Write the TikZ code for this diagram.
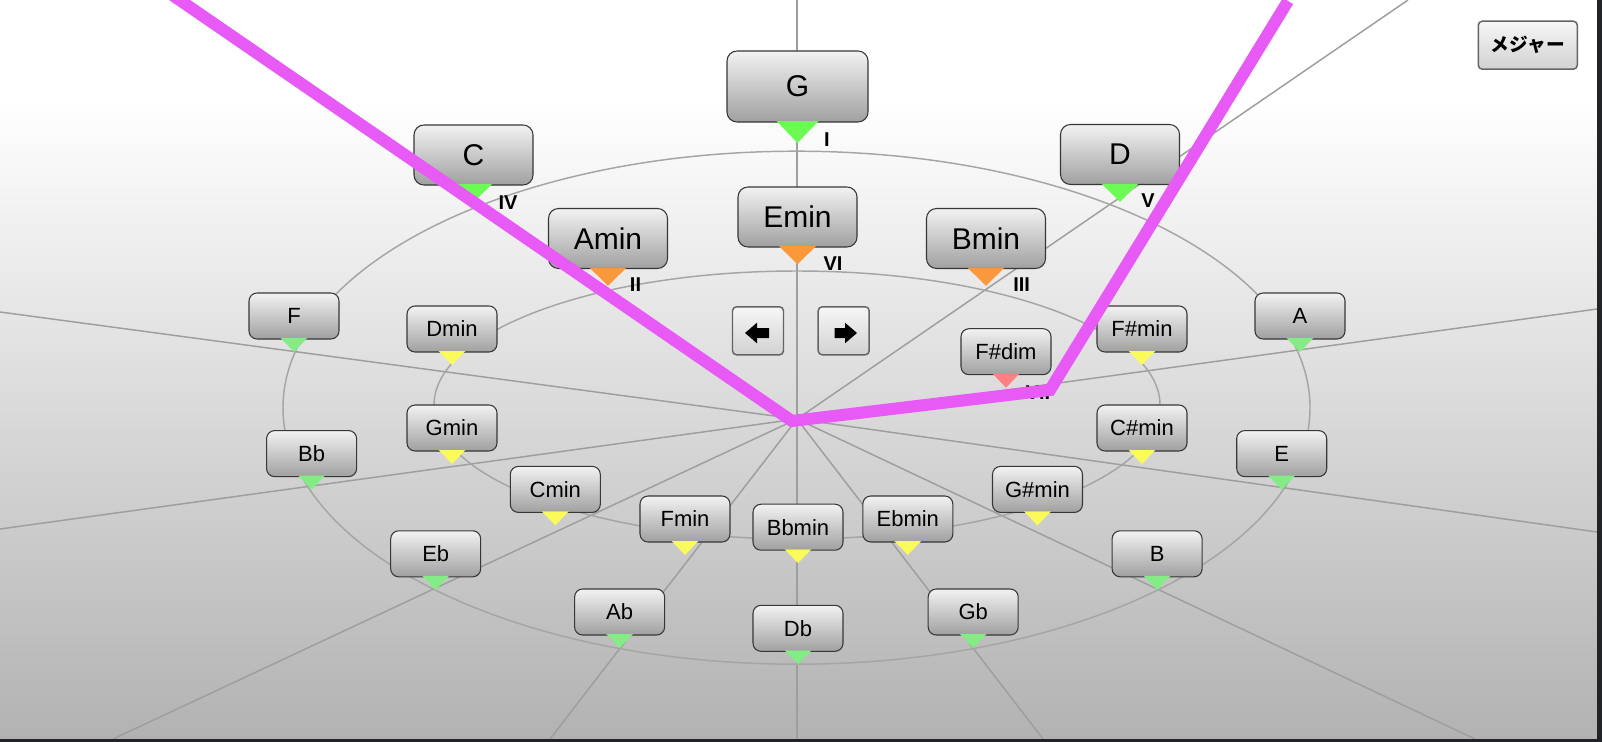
\documentclass[tikz,border=0pt]{standalone}
\usepackage{fontspec}
\setmainfont{Liberation Sans}
\newfontfamily\cjk{Noto Sans CJK JP}
\definecolor{boxtop}{RGB}{242,242,242}
\definecolor{boxbot}{RGB}{160,160,160}
\definecolor{boxline}{RGB}{55,55,55}
\definecolor{raygray}{RGB}{158,158,158}
\definecolor{ellgray}{RGB}{165,165,165}
\definecolor{bgbot}{RGB}{178,178,178}
\definecolor{edgedark}{RGB}{32,36,40}
\definecolor{greenhi}{RGB}{108,250,84}
\definecolor{greenlo}{RGB}{132,236,132}
\definecolor{yellowtri}{RGB}{250,250,90}
\definecolor{orangetri}{RGB}{250,152,60}
\definecolor{salmontri}{RGB}{255,128,128}
\definecolor{pinkline}{RGB}{232,90,245}
\definecolor{btntop}{RGB}{246,246,246}
\definecolor{btnbot}{RGB}{210,210,210}
\definecolor{btnline}{RGB}{100,100,100}
\newcommand\tri[4]{\fill[#2] ([xshift=-#3,yshift=0.7pt]#1.south) -- ([xshift=#3,yshift=0.7pt]#1.south) -- ([yshift=-#4]#1.south) -- cycle;}
\begin{document}
\begin{tikzpicture}[x=0.75pt,y=-0.75pt,
  smallbox/.style={draw=boxline, line width=0.8pt, rounded corners=6pt, top color=boxtop, bottom color=boxbot,
    minimum width=67.5pt, minimum height=34.5pt, inner sep=0pt, outer sep=0pt, text=black,
    font=\fontsize{16.5}{18}\selectfont},
  bigbox/.style={smallbox, minimum width=89.25pt, minimum height=45pt, rounded corners=7.5pt,
    font=\fontsize{22.5}{26}\selectfont},
  gbox/.style={bigbox, minimum width=105.75pt, minimum height=53.25pt},
  roman/.style={font=\bfseries\fontsize{15}{17}\selectfont, inner sep=0pt, text=black},
  ray/.style={draw=raygray, line width=1.1pt},
  ell/.style={draw=ellgray, line width=1.1pt},
  btn/.style={draw=btnline, line width=1.1pt, rounded corners=3pt, top color=btntop, bottom color=btnbot,
    inner sep=0pt, outer sep=0pt},
  pink/.style={draw=pinkline, line width=9pt, line join=miter}
]
\useasboundingbox (0,0) rectangle (1602,742);
\clip (0,0) rectangle (1602,742);
% background
\fill[white] (0,0) rectangle (1602,742);
\shade[top color=white, bottom color=bgbot] (0,100) rectangle (1602,739);
% spokes from the centre towards each major chord
\coordinate (O) at (797,419);
\coordinate (sG) at (797,0);
\coordinate (sD) at (1408,0);
\coordinate (sA) at (1597,309);
\coordinate (sE) at (1597,532);
\coordinate (sB) at (1475,739);
\coordinate (sGb) at (1043,739);
\coordinate (sDb) at (797,739);
\coordinate (sAb) at (550,739);
\coordinate (sEb) at (113,739);
\coordinate (sBb) at (0,529);
\coordinate (sF) at (0,312);
\coordinate (sC) at (184,0);
\foreach \s in {sG,sD,sA,sE,sB,sGb,sDb,sAb,sEb,sBb,sF,sC} \draw[ray] (O) -- (\s);
% ellipses
\draw[ell] (796.5,407.7) ellipse [x radius=513.5, y radius=256.5];
\draw[ell] (797,405) ellipse [x radius=363, y radius=134];
% big boxes
\node[gbox] (G) at (797.5,86.5) {G};
\tri{G}{greenhi}{15.75pt}{15.75pt}
\node[bigbox] (C) at (473.5,155) {C};
\tri{C}{greenhi}{13.9pt}{13pt}
\node[bigbox] (D) at (1120,154.5) {D};
\tri{D}{greenhi}{13.9pt}{13pt}
\node[bigbox] (Amin) at (608,238.5) {Amin};
\tri{Amin}{orangetri}{13.9pt}{13pt}
\node[bigbox] (Emin) at (797.5,217) {Emin};
\tri{Emin}{orangetri}{13.9pt}{13pt}
\node[bigbox] (Bmin) at (986,238.5) {Bmin};
\tri{Bmin}{orangetri}{13.9pt}{13pt}
% small boxes
\node[smallbox] (F) at (294,316) {F};
\tri{F}{greenlo}{10pt}{9.75pt}
\node[smallbox] (Dmin) at (452,329) {Dmin};
\tri{Dmin}{yellowtri}{10pt}{9.75pt}
\node[smallbox] (Fsmin) at (1142,329) {F\#min};
\tri{Fsmin}{yellowtri}{10pt}{9.75pt}
\node[smallbox] (A) at (1300,316) {A};
\tri{A}{greenlo}{10pt}{9.75pt}
\node[smallbox] (Fsdim) at (1006,351.7) {F\#dim};
\tri{Fsdim}{salmontri}{10pt}{9.75pt}
\node[smallbox] (Gmin) at (452,428) {Gmin};
\tri{Gmin}{yellowtri}{10pt}{9.75pt}
\node[smallbox] (Csmin) at (1142,428) {C\#min};
\tri{Csmin}{yellowtri}{10pt}{9.75pt}
\node[smallbox] (Bb) at (311.6,453.6) {Bb};
\tri{Bb}{greenlo}{10pt}{9.75pt}
\node[smallbox] (E) at (1281.7,453.6) {E};
\tri{E}{greenlo}{10pt}{9.75pt}
\node[smallbox] (Cmin) at (555.3,489.4) {Cmin};
\tri{Cmin}{yellowtri}{10pt}{9.75pt}
\node[smallbox] (Gsmin) at (1037.5,489.4) {G\#min};
\tri{Gsmin}{yellowtri}{10pt}{9.75pt}
\node[smallbox] (Fmin) at (685,519) {Fmin};
\tri{Fmin}{yellowtri}{10pt}{9.75pt}
\node[smallbox] (Bbmin) at (798,527.2) {Bbmin};
\tri{Bbmin}{yellowtri}{10pt}{9.75pt}
\node[smallbox] (Ebmin) at (907.8,519) {Ebmin};
\tri{Ebmin}{yellowtri}{10pt}{9.75pt}
\node[smallbox] (Eb) at (435.7,553.8) {Eb};
\tri{Eb}{greenlo}{10pt}{9.75pt}
\node[smallbox] (B) at (1157.1,553.8) {B};
\tri{B}{greenlo}{10pt}{9.75pt}
\node[smallbox] (Ab) at (619.6,612) {Ab};
\tri{Ab}{greenlo}{10pt}{9.75pt}
\node[smallbox] (Db) at (798,628.3) {Db};
\tri{Db}{greenlo}{10pt}{9.75pt}
\node[smallbox] (Gb) at (973.2,612) {Gb};
\tri{Gb}{greenlo}{10pt}{9.75pt}
% degree labels
\node[roman] (lI) at (827,140) {I};
\node[roman] (lIV) at (508,203) {IV};
\node[roman] (lV) at (1148,201) {V};
\node[roman] (lII) at (635.5,285) {II};
\node[roman] (lVI) at (833,263.6) {VI};
\node[roman] (lIII) at (1021.7,285) {III};
\node[roman] (lVII) at (1038,393) {VII};
% arrow buttons
\node[btn, minimum width=38.25pt, minimum height=36pt] (prev) at (758,330.8) {};
\node[btn, minimum width=38.25pt, minimum height=36pt] (next) at (843.7,330.8) {};
\fill[black] (745,333) -- (757,322.7) -- (757,328) -- (769,328) -- (769,338) -- (757,338) -- (757,343.3) -- cycle;
\fill[black] (857,333) -- (845,322.7) -- (845,328) -- (834.5,328) -- (834.5,338) -- (845,338) -- (845,343.3) -- cycle;
% mode button
\node[btn, minimum width=74.25pt, minimum height=36pt, text=black,
  font=\cjk\bfseries\fontsize{14}{16}\selectfont] (major) at (1527.8,45.2) {メジャー};
% pink path
\coordinate (P0) at (165,-10);
\coordinate (V) at (792,421);
\coordinate (K) at (1050,390);
\coordinate (P3) at (1288,1);
\draw[pink] (P0) -- (V) -- (K) -- (P3);
% window edges
\fill[edgedark] (1597,0) rectangle (1602,742);
\fill[edgedark] (0,739) rectangle (1602,742);
\end{tikzpicture}
\end{document}
